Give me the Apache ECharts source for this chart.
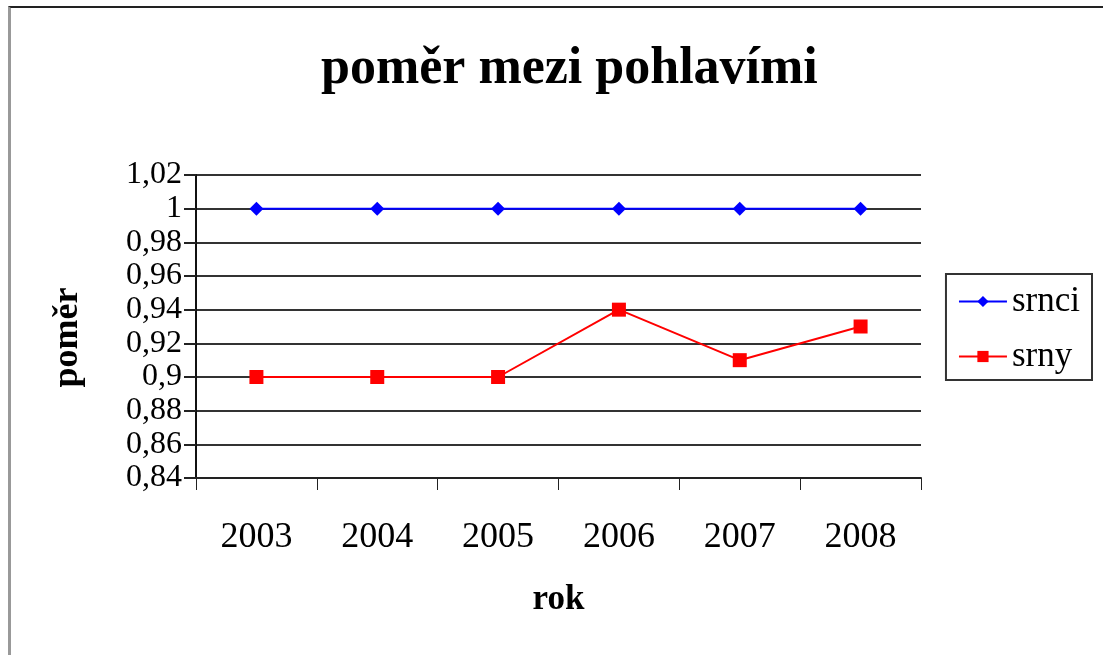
<!DOCTYPE html>
<html>
<head>
<meta charset="utf-8">
<script src="https://cdn.jsdelivr.net/npm/echarts@6/dist/echarts.min.js"></script>
<style>
    html, body { margin: 0; padding: 0; background: #fff; overflow: hidden; }
    #frame { position: absolute; left: 8px; top: 6px; width: 1200px; height: 800px;
             border-top: 2px solid #222; border-left: 3px solid #999; }
    #main { position: absolute; left: 0; top: 0; width: 1103px; height: 655px; }
</style>
</head>
<body>
<div id="frame"></div>
<div id="main"></div>
<script>
    // data
    var roky = ['2003', '2004', '2005', '2006', '2007', '2008'];
    var srnci = [1, 1, 1, 1, 1, 1];
    var srny = [0.9, 0.9, 0.9, 0.94, 0.91, 0.93];
    var yMin = 0.84, yMax = 1.02, yStep = 0.02;

    var serif = '"Liberation Serif", "Times New Roman", serif';
    var myChart = echarts.init(document.getElementById('main'));

    var option = {
        animation: false,
        title: {
            text: 'poměr mezi pohlavími',
            left: 316,
            top: 39,
            textStyle: { fontFamily: serif, fontSize: 52, fontWeight: 'bold', color: '#000' }
        },
        legend: {
            orient: 'vertical',
            right: 11,
            top: 274,
            padding: [10, 12, 6, 12],
            itemGap: 20,
            itemWidth: 48,
            itemHeight: 14,
            borderColor: '#333',
            borderWidth: 2,
            textStyle: { fontFamily: serif, fontSize: 35, color: '#000' },
            data: ['srnci', 'srny']
        },
        grid: { left: 196, right: 182, top: 175, bottom: 177 },
        xAxis: [{
            type: 'category',
            data: roky,
            boundaryGap: true,
            name: 'rok',
            nameLocation: 'middle',
            nameGap: 104,
            nameTextStyle: { fontFamily: serif, fontSize: 35, fontWeight: 'bold', color: '#000' },
            axisLine: { lineStyle: { color: '#222', width: 2 } },
            axisTick: { show: true, length: 12, lineStyle: { color: '#222' } },
            axisLabel: { fontFamily: serif, fontSize: 36, color: '#000', margin: 42 }
        }],
        yAxis: [{
            type: 'value',
            min: yMin,
            max: yMax,
            interval: yStep,
            name: 'poměr',
            nameLocation: 'middle',
            nameRotate: 90,
            nameGap: 110,
            nameTextStyle: {
                fontFamily: serif, fontSize: 36, fontWeight: 'bold', color: '#000',
                padding: [0, 22, 0, 0]
            },
            axisLine: { show: true, lineStyle: { color: '#111', width: 2 } },
            axisTick: { show: true, length: 12, lineStyle: { color: '#222', width: 2 } },
            axisLabel: {
                fontFamily: serif, fontSize: 32, lineHeight: 30, color: '#000', margin: 14,
                hideOverlap: false,
                formatter: function (v) {
                    return String(Math.round(v * 100) / 100).replace('.', ',');
                }
            },
            splitLine: { lineStyle: { color: '#333', width: 2 } }
        }],
        series: [{
            name: 'srnci',
            type: 'line',
            data: srnci,
            symbol: 'diamond',
            symbolSize: 14,
            lineStyle: { color: '#0000ff', width: 2 },
            itemStyle: { color: '#0000ff' }
        }, {
            name: 'srny',
            type: 'line',
            data: srny,
            symbol: 'rect',
            symbolSize: 14,
            lineStyle: { color: '#ff0000', width: 2 },
            itemStyle: { color: '#ff0000' }
        }]
    };

    myChart.setOption(option);
</script>
</body>
</html>
